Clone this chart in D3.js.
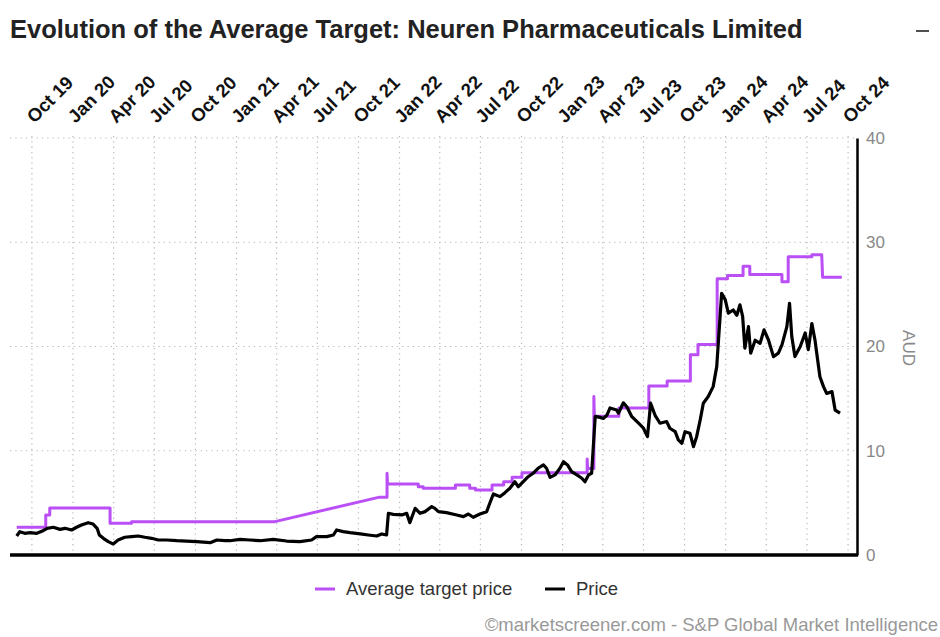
<!DOCTYPE html>
<html>
<head>
<meta charset="utf-8">
<script src="https://cdn.jsdelivr.net/npm/d3@7"></script>
<style>
  html, body { margin: 0; padding: 0; background: #fff; }
  svg { display: block; font-family: "Liberation Sans", Arial, sans-serif; }
</style>
</head>
<body>
<svg id="chart" width="940" height="637"></svg>
<script>
// ---------- data ----------
const chartTitle = "Evolution of the Average Target: Neuren Pharmaceuticals Limited";
const xTickDates = ["2019-10-01","2020-01-01","2020-04-01","2020-07-01","2020-10-01","2021-01-01","2021-04-01","2021-07-01","2021-10-01","2022-01-01","2022-04-01","2022-07-01","2022-10-01","2023-01-01","2023-04-01","2023-07-01","2023-10-01","2024-01-01","2024-04-01","2024-07-01","2024-10-01"];
const xTickLabels = ["Oct 19","Jan 20","Apr 20","Jul 20","Oct 20","Jan 21","Apr 21","Jul 21","Oct 21","Jan 22","Apr 22","Jul 22","Oct 22","Jan 23","Apr 23","Jul 23","Oct 23","Jan 24","Apr 24","Jul 24","Oct 24"];
const yTicks = [0, 10, 20, 30, 40];
const yLabel = "AUD";
const seriesNames = ["Average target price", "Price"];

const targetDates = ["2019-08-28","2019-11-01","2019-11-01","2019-11-10","2019-11-10","2020-03-24","2020-03-24","2020-05-11","2020-05-11","2021-03-28","2021-11-15","2021-12-04","2021-12-04","2021-12-05","2022-02-12","2022-02-12","2022-02-23","2022-02-23","2022-05-06","2022-05-06","2022-06-07","2022-06-07","2022-06-20","2022-06-20","2022-07-27","2022-07-27","2022-08-22","2022-08-22","2022-09-10","2022-09-10","2022-10-02","2022-10-02","2023-02-25","2023-02-25","2023-02-26","2023-03-12","2023-03-12","2023-03-13","2023-05-07","2023-05-07","2023-07-13","2023-07-13","2023-08-23","2023-08-23","2023-10-14","2023-10-14","2023-10-31","2023-10-31","2023-12-13","2023-12-13","2024-01-05","2024-01-05","2024-02-09","2024-02-09","2024-02-24","2024-02-24","2024-05-06","2024-05-06","2024-05-20","2024-05-20","2024-07-12","2024-07-12","2024-08-03","2024-08-05","2024-09-17"];
const targetValues = [2.65,2.65,3.84,3.84,4.5,4.5,3.04,3.04,3.2,3.2,5.53,5.53,7.84,6.8,6.8,6.55,6.55,6.4,6.4,6.72,6.72,6.4,6.4,6.24,6.24,6.72,6.72,7.03,7.03,7.45,7.45,7.9,7.9,9.2,8.3,8.3,15.2,13.3,13.3,14.1,14.1,16.2,16.2,16.7,16.7,19.2,19.2,20.2,20.2,26.5,26.5,26.8,26.8,27.7,27.7,26.9,26.9,26.2,26.2,28.6,28.6,28.8,28.8,26.65,26.65];

const priceDates = ["2019-08-28","2019-09-04","2019-09-15","2019-09-27","2019-10-12","2019-10-26","2019-11-04","2019-11-18","2019-12-03","2019-12-14","2019-12-29","2020-01-09","2020-01-20","2020-02-04","2020-02-15","2020-02-24","2020-02-29","2020-03-09","2020-03-20","2020-03-31","2020-04-11","2020-04-26","2020-05-11","2020-05-26","2020-06-10","2020-06-25","2020-07-10","2020-07-29","2020-08-20","2020-09-11","2020-10-04","2020-11-03","2020-11-18","2020-12-06","2020-12-17","2021-01-09","2021-01-31","2021-02-23","2021-03-24","2021-04-23","2021-05-23","2021-06-18","2021-06-29","2021-07-22","2021-08-06","2021-08-13","2021-08-28","2021-09-12","2021-10-05","2021-10-23","2021-11-11","2021-11-22","2021-12-03","2021-12-07","2021-12-18","2022-01-06","2022-01-17","2022-01-24","2022-02-05","2022-02-16","2022-02-27","2022-03-14","2022-03-21","2022-03-29","2022-04-16","2022-05-09","2022-05-24","2022-06-04","2022-06-15","2022-06-30","2022-07-15","2022-07-22","2022-07-30","2022-08-14","2022-08-25","2022-09-05","2022-09-16","2022-09-24","2022-10-05","2022-10-16","2022-10-27","2022-11-07","2022-11-19","2022-11-26","2022-12-04","2022-12-15","2022-12-26","2023-01-03","2023-01-12","2023-01-21","2023-02-02","2023-02-13","2023-02-20","2023-02-28","2023-03-07","2023-03-15","2023-03-26","2023-04-02","2023-04-10","2023-04-17","2023-05-02","2023-05-06","2023-05-17","2023-05-25","2023-06-05","2023-06-20","2023-07-01","2023-07-10","2023-07-17","2023-07-27","2023-08-07","2023-08-22","2023-08-29","2023-09-10","2023-09-17","2023-09-25","2023-10-02","2023-10-13","2023-10-21","2023-10-28","2023-11-05","2023-11-12","2023-11-23","2023-12-04","2023-12-12","2023-12-18","2023-12-23","2023-12-31","2024-01-07","2024-01-18","2024-01-26","2024-02-02","2024-02-08","2024-02-13","2024-02-21","2024-02-26","2024-03-07","2024-03-18","2024-03-27","2024-04-06","2024-04-17","2024-04-28","2024-05-06","2024-05-17","2024-05-23","2024-05-28","2024-06-04","2024-06-16","2024-06-27","2024-07-04","2024-07-12","2024-07-19","2024-07-30","2024-08-07","2024-08-14","2024-08-26","2024-09-02","2024-09-13"];
const priceValues = [1.82,2.24,2.08,2.14,2.08,2.33,2.56,2.66,2.46,2.56,2.40,2.66,2.88,3.10,2.97,2.56,1.92,1.60,1.28,1.06,1.44,1.70,1.76,1.82,1.70,1.60,1.44,1.44,1.37,1.34,1.28,1.18,1.44,1.37,1.37,1.50,1.44,1.37,1.50,1.34,1.28,1.44,1.76,1.76,1.92,2.40,2.24,2.14,2.02,1.92,1.82,2.02,1.92,4.00,3.90,3.84,4.00,3.10,4.48,4.00,4.16,4.64,4.48,4.16,4.06,3.84,3.68,3.93,3.62,3.93,4.16,4.96,5.85,5.60,5.98,6.40,7.03,6.55,7.03,7.51,7.84,8.32,8.64,8.32,7.45,7.68,8.32,8.95,8.64,8.00,7.68,7.36,7.03,7.68,7.84,13.3,13.2,13.1,13.4,14.1,13.9,13.6,14.6,14.2,13.27,12.64,12.16,11.35,14.56,13.4,12.64,12.8,12.16,11.83,11.04,10.72,11.83,11.68,10.4,11.35,12.96,14.56,15.2,16.15,18.07,21.9,25.1,24.5,23.2,23.5,23.0,24.0,22.9,19.84,21.9,19.36,20.6,20.3,21.6,20.6,19.03,19.36,20.15,21.9,24.15,20.95,19.03,20.0,21.3,19.7,22.2,20.6,17.1,16.15,15.5,15.67,13.9,13.6];

// ---------- layout ----------
const parse = d3.timeParse("%Y-%m-%d");
const plot = { left: 10, right: 857, top: 138, bottom: 555 };
const purple = "#b94ff5";

const svg = d3.select("#chart");

const x = d3.scaleTime()
  .domain([parse("2019-08-13"), parse("2024-10-21")])
  .range([plot.left, plot.right]);
const y = d3.scaleLinear().domain([0, 40]).range([plot.bottom, plot.top]);

// title
svg.append("text")
  .attr("x", 10).attr("y", 38)
  .attr("font-size", 25.5).attr("font-weight", "bold")
  .attr("fill", "#222")
  .text(chartTitle);

// minimize icon
svg.append("line")
  .attr("x1", 916).attr("x2", 929).attr("y1", 31).attr("y2", 31)
  .attr("stroke", "#222").attr("stroke-width", 1.6);

// grid
const gridG = svg.append("g").attr("class", "grid");
gridG.selectAll("line.v").data(xTickDates).join("line")
  .attr("class", "v")
  .attr("x1", d => x(parse(d))).attr("x2", d => x(parse(d)))
  .attr("y1", plot.top - 2).attr("y2", plot.bottom)
  .attr("stroke", "#bbb").attr("stroke-width", 1.2)
  .attr("stroke-dasharray", "1.3,4");
gridG.selectAll("line.h").data(yTicks.filter(d => d > 0)).join("line")
  .attr("class", "h")
  .attr("x1", plot.left).attr("x2", plot.right)
  .attr("y1", d => y(d)).attr("y2", d => y(d))
  .attr("stroke", "#bbb").attr("stroke-width", 1.2)
  .attr("stroke-dasharray", "1.3,4");

// x axis (top labels)
const xAxis = d3.axisTop(x)
  .tickValues(xTickDates.map(parse))
  .tickFormat((d, i) => xTickLabels[i])
  .tickSize(0);
const gx = svg.append("g").attr("transform", `translate(0,${plot.top})`).call(xAxis);
gx.select(".domain").remove();
gx.selectAll("text")
  .attr("font-family", "'Liberation Sans', Arial, sans-serif")
  .attr("font-size", 18.5).attr("font-weight", "bold").attr("fill", "#111")
  .attr("text-anchor", "start")
  .attr("dy", null).attr("y", null)
  .attr("transform", "translate(2,-14) rotate(-45)");

// y axis (right)
const yAxis = d3.axisRight(y).tickValues(yTicks).tickSize(0).tickPadding(9);
const gy = svg.append("g").attr("transform", `translate(${plot.right},0)`).call(yAxis);
gy.select(".domain").attr("stroke", "#000").attr("stroke-width", 2.5);
gy.selectAll("text")
  .attr("font-family", "'Liberation Sans', Arial, sans-serif")
  .attr("font-size", 17).attr("fill", "#888");

// y axis title
svg.append("text")
  .attr("transform", `translate(903,348) rotate(90)`)
  .attr("text-anchor", "middle")
  .attr("font-size", 17).attr("fill", "#888")
  .text(yLabel);

// bottom axis line
svg.append("line")
  .attr("x1", plot.left).attr("x2", plot.right + 1)
  .attr("y1", plot.bottom).attr("y2", plot.bottom)
  .attr("stroke", "#000").attr("stroke-width", 3.5);

// series
const targetData = targetDates.map((d, i) => ({ date: parse(d), value: targetValues[i] }));
const priceData = priceDates.map((d, i) => ({ date: parse(d), value: priceValues[i] }));
const line = d3.line().x(d => x(d.date)).y(d => y(d.value));

svg.append("path").datum(targetData)
  .attr("d", line).attr("fill", "none")
  .attr("stroke", purple).attr("stroke-width", 3)
  .attr("stroke-linejoin", "round");
svg.append("path").datum(priceData)
  .attr("d", line).attr("fill", "none")
  .attr("stroke", "#000").attr("stroke-width", 3.2)
  .attr("stroke-linejoin", "round");

// legend
const legend = svg.append("g").attr("transform", "translate(0,589)");
const legendItems = [
  { name: seriesNames[0], color: purple, x: 315 },
  { name: seriesNames[1], color: "#000", x: 545 }
];
legendItems.forEach(it => {
  legend.append("line")
    .attr("x1", it.x).attr("x2", it.x + 20).attr("y1", 0).attr("y2", 0)
    .attr("stroke", it.color).attr("stroke-width", 3);
  legend.append("text")
    .attr("x", it.x + 31).attr("y", 0).attr("dy", "0.35em")
    .attr("font-size", 18.5).attr("fill", "#333")
    .text(it.name);
});

// footer
svg.append("text")
  .attr("x", 938).attr("y", 631)
  .attr("text-anchor", "end")
  .attr("font-size", 18.5).attr("fill", "#999")
  .text("©marketscreener.com - S&P Global Market Intelligence");
</script>
</body>
</html>
